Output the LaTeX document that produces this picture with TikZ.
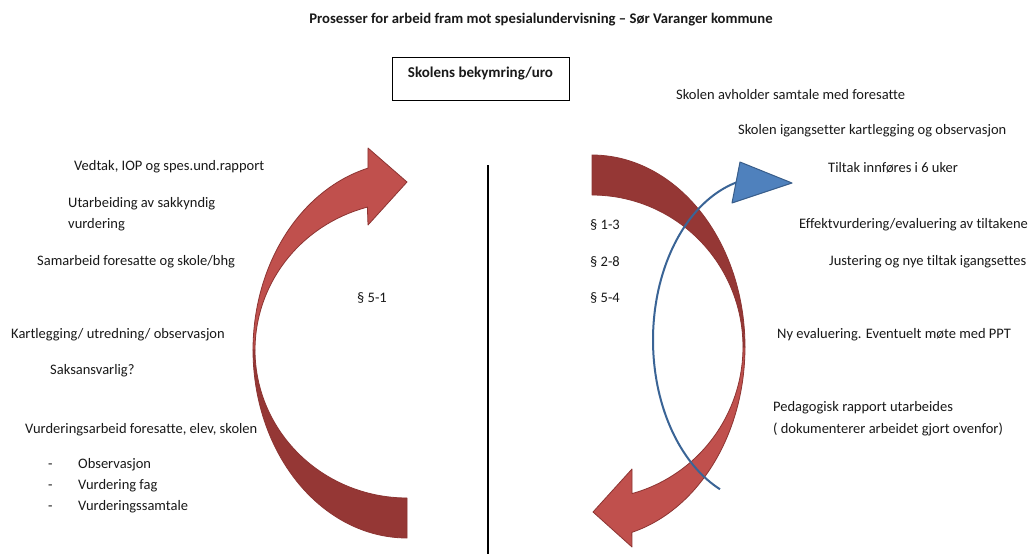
\documentclass[tikz,border=0pt]{standalone}
\usepackage{fontspec}
\setmainfont{Carlito}[Ligatures={NoCommon}]
\definecolor{redlight}{RGB}{192,80,77}
\definecolor{reddark}{RGB}{149,55,53}
\definecolor{redline}{RGB}{140,52,50}
\definecolor{bluefill}{RGB}{79,129,189}
\definecolor{blueline}{RGB}{56,93,138}
\definecolor{bluecurve}{RGB}{58,100,150}
\definecolor{txtcol}{RGB}{25,25,25}
\begin{document}
\begin{tikzpicture}[x=1pt,y=-1pt,
  txt/.style={anchor=west,inner sep=0pt,text=txtcol,font=\fontsize{14.5}{21}\selectfont,align=left},
  par/.style={anchor=west,inner sep=0pt,text=txtcol,font=\fontsize{14.5}{21}\selectfont},
  lightpart/.style={fill=redlight,draw=redline,line width=0.8pt,line join=round},
  darkpart/.style={fill=reddark,draw=redline,line width=0.8pt,line join=round},
  bluecurvestyle/.style={draw=bluecurve,line width=2pt},
  bluehead/.style={fill=bluefill,draw=blueline,line width=1pt,line join=round}]
\useasboundingbox (0,0) rectangle (1031,554);
\fill[white] (0,0) rectangle (1031,554);

% title
\node[inner sep=0pt,text=txtcol,font=\bfseries\fontsize{14.7}{17}\selectfont] (title) at (541,20)
  {Prosesser for arbeid fram mot spesialundervisning – Sør Varanger kommune};

% box
\node[draw=black,line width=1pt,anchor=north,minimum width=177pt,inner xsep=0pt,inner ysep=0pt,
  text height=19.5pt,text depth=23.5pt,text=txtcol,font=\bfseries\fontsize{15}{18}\selectfont] (box) at (480.5,57)
  {Skolens bekymring/uro};

% vertical line
\coordinate (vtop) at (488,165);
\coordinate (vbot) at (488,554);
\draw[line width=2.5pt,black] (vtop) -- (vbot);

% left curved arrow (dark lower part)
\path[darkpart]
  plot[domain=90:180,samples=50] ({407+154*cos(\x)},{350+188*sin(\x)})
  -- plot[domain=180:90,samples=50] ({407+152*cos(\x)},{350+148*sin(\x)}) -- cycle;
% left curved arrow (light upper part with head)
\path[lightpart]
  plot[domain=180:255.3,samples=50] ({407+154*cos(\x)},{350+188*sin(\x)})
  -- (368,148) -- (407,182) -- (368,225)
  -- plot[domain=254.9:180,samples=50] ({407+152*cos(\x)},{350+148*sin(\x)}) -- cycle;

% right curved arrow (dark upper part)
\path[darkpart]
  plot[domain=270:360,samples=50] ({592+153*cos(\x)},{347+192*sin(\x)})
  -- plot[domain=360:270,samples=50] ({592+151*cos(\x)},{347+152*sin(\x)}) -- cycle;
% right curved arrow (light lower part with head)
\path[lightpart]
  plot[domain=0:74.9,samples=50] ({592+153*cos(\x)},{347+192*sin(\x)})
  -- (632,547) -- (593,512) -- (632,469)
  -- plot[domain=74.6:0,samples=50] ({592+151*cos(\x)},{347+152*sin(\x)}) -- cycle;

% blue curved arrow
\draw[bluecurvestyle] plot[domain=113.7:255.5,samples=80] ({765+112*cos(\x)},{340+163*sin(\x)});
\path[bluehead] (740,162) -- (792,183) -- (732,203) -- cycle;

% left texts
\node[par] (t1) at (74,167) {Vedtak, IOP og spes.und.rapport};
\node[txt] (t2) at (68,214.5) {Utarbeiding av sakkyndig\\vurdering};
\node[par] (t3) at (37,262) {Samarbeid foresatte og skole/bhg};
\node[par] (t4) at (11,335) {Kartlegging/ utredning/ observasjon};
\node[par] (t5) at (50,371) {Saksansvarlig?};
\node[par] (t6) at (25,430) {Vurderingsarbeid foresatte, elev, skolen};
\node[txt] (t7) at (48,486) {\makebox[30pt][l]{-}Observasjon\\\makebox[30pt][l]{-}Vurdering fag\\\makebox[30pt][l]{-}Vurderingssamtale};
\node[par] (p51) at (357,298) {§ 5-1};

% right texts
\node[par] (r1) at (676,95) {Skolen avholder samtale med foresatte};
\node[par] (r2) at (738,131) {Skolen igangsetter kartlegging og observasjon};
\node[par] (r3) at (828,168) {Tiltak innføres i 6 uker};
\node[par] (r4) at (799,225) {Effektvurdering/evaluering av tiltakene};
\node[par] (r5) at (829,262) {Justering og nye tiltak igangsettes};
\node[par] (r6) at (777,335) {Ny evaluering. Eventuelt møte med PPT};
\node[txt,font=\fontsize{14.5}{22}\selectfont] (r7) at (773,419) {Pedagogisk rapport utarbeides\\( dokumenterer arbeidet gjort ovenfor)};
\node[par] (p13) at (590,225) {§ 1-3};
\node[par] (p28) at (590,262) {§ 2-8};
\node[par] (p54) at (590,298) {§ 5-4};
\end{tikzpicture}
\end{document}
